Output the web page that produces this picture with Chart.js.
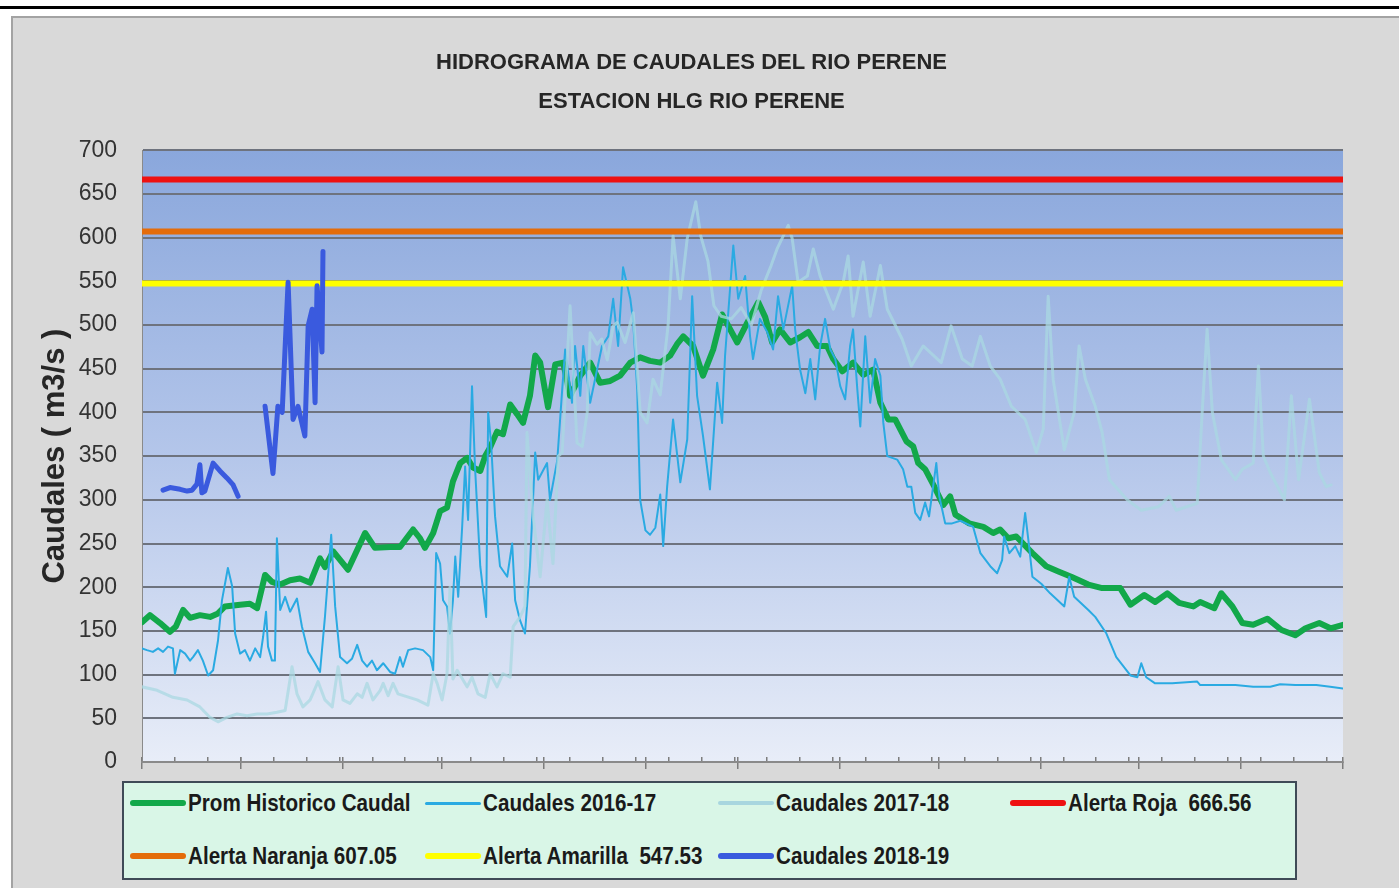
<!DOCTYPE html>
<html lang="es">
<head>
<meta charset="utf-8">
<title>Hidrograma de caudales del rio Perene</title>
<script src="https://cdn.jsdelivr.net/npm/chart.js@4.4.1/dist/chart.umd.min.js"></script>
<style>
  html, body { margin: 0; padding: 0; background: #fff; }
  body { width: 1399px; height: 888px; position: relative; overflow: hidden; }
  #linea-sup { position: absolute; left: 0; top: 6px; width: 1399px; height: 3px; background: #000; }
  #panel { position: absolute; left: 11px; top: 16px; width: 1400px; height: 900px; background: #d9d9d9; border: 2px solid #a3a3a3; }
  #grafico { position: absolute; left: 0; top: 0; }
  #leyenda { position: absolute; left: 122px; top: 781px; width: 1171px; height: 95px; background: #d9f6e7; border: 2px solid #3f4b57; }
  .item { position: absolute; height: 30px; display: flex; align-items: center; white-space: pre; }
  .muestra { width: 56px; margin-right: 2px; border-radius: 3px; flex: none; }
  .txt { display: inline-block; transform: scaleX(0.86); transform-origin: left center;
         font: bold 24px "Liberation Sans", Arial, sans-serif; color: #1a1a1a; }
</style>
</head>
<body>
<div id="linea-sup"></div>
<div id="panel"></div>
<canvas id="grafico" width="1399" height="888"></canvas>
<div id="leyenda">
  <div class="item" style="left:6px; top:5px"><span class="muestra" style="height:6px; background:#12a84a"></span><span class="txt">Prom Historico Caudal</span></div>
  <div class="item" style="left:301px; top:5px"><span class="muestra" style="height:3px; background:#2aaae2"></span><span class="txt">Caudales 2016-17</span></div>
  <div class="item" style="left:594px; top:5px"><span class="muestra" style="height:4px; background:#a8d6df"></span><span class="txt">Caudales 2017-18</span></div>
  <div class="item" style="left:886px; top:5px"><span class="muestra" style="height:6px; background:#ee1111"></span><span class="txt">Alerta Roja  666.56</span></div>
  <div class="item" style="left:6px; top:58px"><span class="muestra" style="height:6px; background:#e46c0a"></span><span class="txt">Alerta Naranja 607.05</span></div>
  <div class="item" style="left:301px; top:58px"><span class="muestra" style="height:6px; background:#ffff00"></span><span class="txt">Alerta Amarilla  547.53</span></div>
  <div class="item" style="left:594px; top:58px"><span class="muestra" style="height:6px; background:#3a5ade"></span><span class="txt">Caudales 2018-19</span></div>
</div>
<script>
// dias contados desde el 1 de setiembre, caudales en m3/s
const diasProm = [0,2.4,5.5,8.5,10.3,12.5,14.6,17.6,20.7,23.1,25.2,29.8,32.8,35,37.4,39.5,42,45,48,51.1,54.1,55.6,58.1,62.6,67.8,70.8,75.4,78.4,82.4,84.5,86,88.5,90.6,92.7,94.5,96.7,98.8,100.6,102.8,104.3,105.8,107.9,109.7,111.9,114,115.8,117.9,119.5,121,123.4,125.6,128,130.1,133.2,136.2,139.2,142.3,145.3,148.4,151.4,154.4,157.5,160.5,162.6,164.5,167.5,170.5,173.6,176.3,180.9,184,187.3,189.4,191.5,193.9,197,200,202.5,205.2,208.2,210.1,212.8,216.1,219.2,222.2,224.4,226.8,228.9,232.3,234.4,235.9,238,240.8,243.5,245.6,247.2,251.4,255.7,258.7,260.8,263.3,265.7,270.6,274.8,278.5,282.4,287.6,291.8,297.3,300.4,304.6,307.9,311.6,315.2,319.5,321.6,325.9,328,331.4,334.4,337.7,342,346.3,350.5,353.6,357.8,361.2,365];
const caudalProm = [160,168,159,149,155,174,165,168,166,170,178,180,181,176,214,206,203,208,210,205,233,223,241,220,262,245,246,246,266,256,245,262,287,291,321,342,348,337,333,350,360,378,375,409,398,388,419,465,457,406,455,457,419,442,457,434,436,442,457,463,459,457,465,478,487,476,442,472,512,480,503,526,509,480,495,480,486,492,476,476,461,447,457,443,449,411,392,392,367,361,342,335,315,294,304,283,273,269,262,266,256,258,239,224,218,212,203,199,199,180,191,183,193,182,178,183,176,193,178,159,157,164,151,145,153,159,153,157];

const dias1617 = [0,1.5,3.3,4.9,6.4,7.9,9.4,10,11.6,13.1,14.6,15.5,17,18.5,20.1,21.6,23.1,24.3,26.1,27.4,28.3,29.8,31.3,32.8,34.4,35.9,36.8,37.7,38.3,39.5,40.4,41,42,43.5,45,47.1,48.6,50.5,52.6,54.1,55.6,57.5,58.7,60.2,62.3,63.8,65.4,66.9,68.4,69.9,71.4,73.3,75.4,76.9,78.4,79.3,80.9,83,85.4,87.6,88.5,89.4,90.6,91.5,92.7,93.6,94.5,95.2,96.1,97.3,98.2,99.1,100.3,101.2,102.8,104.6,105.2,106.1,107.3,108.8,111,112.5,113.4,114.9,116.4,117.9,119.5,120.4,123.1,124,126.2,127.7,128.6,130.7,131.6,133.2,134.1,136.2,139.8,141.7,143.2,144.7,146.2,148.4,149.3,150.5,151.4,153,154.4,156,157.5,158.4,159.6,161.4,163.6,165.7,167.2,168.7,170.5,172.6,174.8,176.3,177.2,179.7,181.2,183.3,184.8,185.7,187.8,190,191.8,193.3,194.9,197.6,198.5,200,201.6,203.1,204.6,206.1,207.6,209.2,210.7,212.2,213.7,215.2,216.1,217.4,218.3,219.8,221.3,222.8,224.4,225.3,226.5,229.5,231.3,232.6,233.8,235,236.5,238,239.2,241.4,242.3,244.1,246.2,248.7,252.6,254.8,257.8,259.9,261.4,262,263.6,265.4,266.9,268.4,269.6,270.6,273.3,276,280.3,281.8,283.3,287.6,289.7,293.1,296.1,300.4,302.5,303.7,305.2,307.9,313.1,320.7,321.6,332.3,337.7,342.9,345.9,350.5,356.9,361.1,365];
const caudal1617 = [130,128,126,130,126,132,130,101,128,124,116,120,128,116,99,105,139,185,222,201,147,124,128,116,130,120,143,172,132,116,116,256,174,189,172,187,155,126,113,103,166,260,178,120,113,118,134,116,109,116,105,113,103,101,120,109,128,130,128,120,105,239,227,185,178,147,185,235,189,269,338,277,430,338,224,166,400,365,281,224,212,250,185,162,147,224,354,323,342,300,345,426,472,411,476,419,476,411,476,487,530,476,566,530,503,426,300,265,260,268,306,247,315,392,320,369,533,419,373,312,434,388,465,591,530,556,487,461,507,492,472,533,495,545,495,449,422,461,415,476,507,472,461,430,415,476,495,426,384,487,411,461,442,388,350,346,335,315,315,285,277,297,281,342,304,273,273,276,269,239,224,216,231,258,239,247,235,285,247,212,204,193,178,212,189,174,166,147,120,99,97,113,97,90,90,92,88,88,86,86,89,88,88,86,84];

const dias1718 = [0,4.6,9.4,13.7,17.6,20.7,23.1,25.8,28.9,31.9,35,38,41,43.5,45.6,47.1,48.9,51.1,53.5,55.6,57.8,59.6,61.1,63.2,65.4,66.9,68.4,70.2,72.4,73.3,74.8,76.3,77.8,83.6,86.9,88.5,89.7,91.2,92.7,93.6,94.5,95.8,98.8,100.3,102.1,104.3,105.8,107.9,109.7,111.9,112.8,114.9,116.4,117,118.9,121,123.1,124.9,126.5,127.7,130.1,132.2,133.8,135.3,136.2,138.3,139.7,141.4,143.2,144.4,146.8,149.3,151.4,153.5,155.3,157.5,159.9,161.4,163.6,165.7,168.3,169.8,172,173.8,176,179.1,182.1,185.2,188.2,191.2,193,194.9,196.4,197.6,199.4,202.2,204,206.1,210.1,213.1,214.6,216.1,219.2,221.3,224.4,226.5,228.9,231,233.8,237.4,242.9,245.9,249.3,252.3,254.8,257.8,260.8,264.2,268.4,271.8,273.9,275.4,276.9,280.3,283.3,284.8,286.7,289.7,291.8,294,299.4,303.7,308.9,312.2,314.3,320.7,322.2,323.7,325.3,328,332.3,334.4,337.7,339.3,340.8,342.9,347.2,349.3,351.5,354.8,357.8,359.9,361.4];
const caudal1718 = [86,82,74,71,63,51,46,51,55,53,55,55,57,59,109,78,63,71,92,71,63,109,71,67,78,74,90,71,82,90,76,90,78,71,65,101,90,71,101,200,95,105,86,97,78,74,101,86,101,97,155,166,178,377,280,212,300,227,350,354,522,365,361,400,491,478,484,460,499,503,480,514,400,388,438,420,500,602,530,599,641,602,573,522,510,507,520,500,540,568,587,602,614,599,549,556,587,556,518,549,579,510,572,510,568,518,500,484,453,476,457,499,461,453,487,453,438,407,392,354,381,533,438,357,400,476,438,407,377,323,300,288,292,304,288,296,400,495,400,346,323,335,342,453,350,331,300,419,323,415,331,315,317];

const dias1819 = [6.4,8.5,11.6,13.7,15.2,16.7,17.6,18.2,19.1,21.6,23.7,25.8,27.7,29.2,33,37.4,39.8,41.3,42.6,44.4,45.9,47.4,49.5,50.5,51.7,52.6,53.2,54.7,55];
const caudal1819 = [311,314,312,310,311,318,340,308,310,342,333,325,317,304,null,407,330,407,400,549,392,407,373,499,518,411,545,469,584];

const diasAlerta = [0, 365];
const alertaRoja = [666.56, 666.56];
const alertaNaranja = [607.05, 607.05];
const alertaAmarilla = [547.53, 547.53];

// marcas del eje x: cada 10 dias y al cierre de cada mes
const ticksDecenas = [0,10,20,30,40,50,60,70,80,90,100,110,120,130,140,150,160,170,180,190,200,210,220,230,240,250,260,270,280,290,300,310,320,330,340,350,360];
const ticksMeses = [0,30,61,91,122,153,181,212,242,273,303,334,365];

const titulo = ['HIDROGRAMA DE CAUDALES DEL RIO PERENE', 'ESTACION HLG RIO PERENE'];

function pares(xs, ys) {
  return xs.map((x, i) => ({ x: x, y: ys[i] }));
}

Chart.defaults.font.family = '"Liberation Sans", Arial, sans-serif';

const fondo = {
  id: 'fondo',
  beforeDraw(chart) {
    const { ctx, chartArea: a } = chart;
    const g = ctx.createLinearGradient(0, a.top, 0, a.bottom);
    g.addColorStop(0, '#8aa7dc');
    g.addColorStop(0.5, '#b4c6ea');
    g.addColorStop(1, '#e8edf8');
    ctx.save();
    ctx.fillStyle = g;
    ctx.fillRect(a.left, a.top, a.width, a.height);
    ctx.restore();
  }
};

function linea(label, data, color, ancho) {
  return { label: label, data: data, borderColor: color, borderWidth: ancho, pointRadius: 0,
           tension: 0, fill: false, spanGaps: false, borderJoinStyle: 'round', borderCapStyle: 'round' };
}

// el primer dataset se dibuja encima
const datasets = [
  linea('Caudales 2018-19', pares(dias1819, caudal1819), '#3a5ade', 5),
  linea('Alerta Amarilla  547.53', pares(diasAlerta, alertaAmarilla), '#ffff00', 6),
  linea('Alerta Naranja 607.05', pares(diasAlerta, alertaNaranja), '#e46c0a', 6),
  linea('Alerta Roja  666.56', pares(diasAlerta, alertaRoja), '#ee1111', 6),
  linea('Caudales 2017-18', pares(dias1718, caudal1718), 'rgba(170,216,226,0.75)', 3),
  linea('Caudales 2016-17', pares(dias1617, caudal1617), '#2aaae2', 2),
  linea('Prom Historico Caudal', pares(diasProm, caudalProm), '#12a84a', 6)
];

new Chart(document.getElementById('grafico'), {
  type: 'line',
  data: { datasets: datasets },
  options: {
    responsive: false,
    animation: false,
    devicePixelRatio: 1,
    layout: { padding: { left: 40, right: 56, top: 30, bottom: 118 } },
    plugins: {
      legend: { display: false },
      tooltip: { enabled: false },
      title: {
        display: true,
        text: titulo,
        color: '#262626',
        font: { size: 22, weight: 'bold', lineHeight: 1.8 },
        padding: { top: 13, bottom: 28 }
      }
    },
    scales: {
      x: {
        type: 'linear', min: 0, max: 365,
        afterBuildTicks: (ax) => { ax.ticks = ticksDecenas.concat(ticksMeses).map(v => ({ value: v })); },
        afterFit: (ax) => { ax.height = 0; },
        ticks: { display: false },
        grid: { drawOnChartArea: false, drawTicks: true, tickLength: -5, color: '#7d7d7d', lineWidth: 1.5 },
        border: { display: true, color: '#8a8a8a', width: 2 }
      },
      xm: {
        type: 'linear', position: 'bottom', min: 0, max: 365,
        afterBuildTicks: (ax) => { ax.ticks = ticksMeses.map(v => ({ value: v })); },
        afterFit: (ax) => { ax.height = 8; },
        ticks: { display: false },
        grid: { drawOnChartArea: false, drawTicks: true, tickLength: 7, color: '#7d7d7d', lineWidth: 1.5 },
        border: { display: false }
      },
      y: {
        min: 0, max: 700,
        afterFit: (ax) => { ax.width = 102; },
        ticks: { stepSize: 50, color: '#333333', font: { size: 23 }, padding: 25 },
        grid: { color: '#6e737e', lineWidth: 2, drawTicks: false },
        border: { display: true, color: '#8a8a8a', width: 1 },
        title: {
          display: true, text: 'Caudales ( m3/s )', color: '#262626',
          font: { size: 31, weight: 'bold', lineHeight: 1 },
          padding: { top: 0, bottom: 8 }
        }
      }
    }
  },
  plugins: [fondo]
});
</script>
</body>
</html>
